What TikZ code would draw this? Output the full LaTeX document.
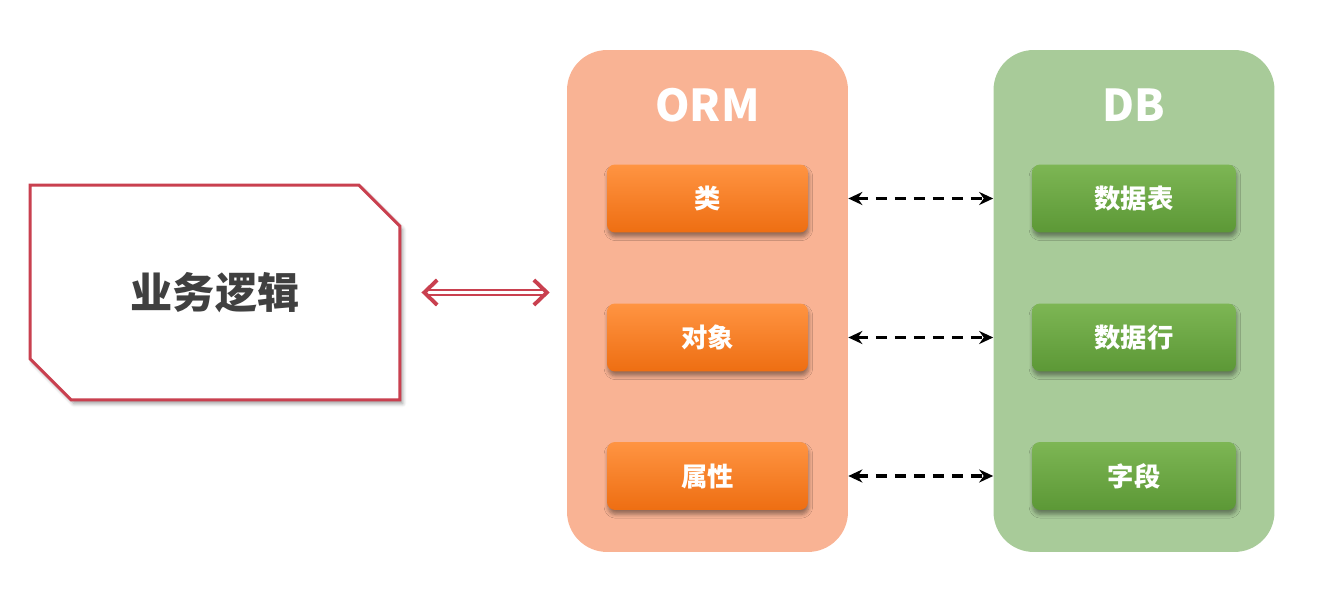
\documentclass[tikz,border=0pt]{standalone}
\usepackage{fontspec}
\setmainfont{Noto Sans CJK SC}
\usepackage{tikz}
\usetikzlibrary{shapes.misc,arrows.meta,shadows.blur}
\definecolor{logicred}{HTML}{C9404F}
\definecolor{logictext}{HTML}{404040}
\definecolor{ormback}{HTML}{F9B394}
\definecolor{ormtop}{HTML}{FF9442}
\definecolor{ormbottom}{HTML}{EE6E12}
\definecolor{dbback}{HTML}{A8CB99}
\definecolor{dbtop}{HTML}{7DB654}
\definecolor{dbbottom}{HTML}{5C9836}

\begin{document}
\begin{tikzpicture}[x=0.02cm,y=-0.02cm]
      \tikzstyle{logic}=[chamfered rectangle,chamfered rectangle corners={north east,south west},chamfered rectangle xsep=0.42cm,chamfered rectangle ysep=0.42cm,draw=logicred,line width=1.7pt,fill=white,minimum width=7.4cm,minimum height=4.3cm,inner sep=0pt,blur shadow={shadow xshift=1.5pt,shadow yshift=-2pt,shadow blur steps=5},text=logictext,font=\bfseries\fontsize{24pt}{28pt}\selectfont]
      \tikzstyle{panel}=[rectangle,rounded corners=0.8cm,minimum width=5.62cm,minimum height=10.04cm,inner sep=0pt]
      \tikzstyle{title}=[text=white,font=\bfseries\fontsize{25pt}{30pt}\selectfont]
      \tikzstyle{item}=[rectangle,rounded corners=0.16cm,minimum height=1.36cm,inner sep=0pt,text=white,font=\bfseries\fontsize{15pt}{18pt}\selectfont,blur shadow={shadow xshift=0.5pt,shadow yshift=-2.5pt,shadow blur steps=5}]
      \tikzstyle{ormitem}=[item,minimum width=4.02cm,top color=ormtop,bottom color=ormbottom]
      \tikzstyle{dbitem}=[item,minimum width=4.08cm,top color=dbtop,bottom color=dbbottom]
      \tikzstyle{link}=[dash pattern=on 0.22cm off 0.16cm,line width=2pt,{Stealth[length=0.28cm,width=0.26cm]}-{Stealth[length=0.28cm,width=0.26cm]}]
      \tikzstyle{twoway}=[logicred,line width=1.3pt,double=white,double distance=1.8pt,{Straight Barb[length=0.26cm,width=0.5cm,line width=2.2pt 0 0]}-{Straight Barb[length=0.26cm,width=0.5cm,line width=2.2pt 0 0]}]
      \useasboundingbox (0,0) rectangle (1321,597);
      \node[logic] (logic) at (215,292.5) {业务逻辑};
      \node[panel,fill=ormback] (orm) at (707.5,301) {};
      \node[panel,fill=dbback] (db) at (1134,301) {};
      \node[title] (ormtitle) at (707.5,105) {ORM};
      \node[title] (dbtitle) at (1134,105) {DB};
      \node[ormitem] (class) at (707.5,198.5) {类};
      \node[ormitem] (object) at (707.5,337.5) {对象};
      \node[ormitem] (attr) at (707.5,476) {属性};
      \node[dbitem] (table) at (1134,198.5) {数据表};
      \node[dbitem] (row) at (1134,337.5) {数据行};
      \node[dbitem] (field) at (1134,476) {字段};
      \draw[twoway,shorten <=0.4cm,shorten >=0.34cm] (logic.east) -- (logic.east -| orm.west);
      \draw[link] (class -| orm.east) -- (class -| db.west);
      \draw[link] (object -| orm.east) -- (object -| db.west);
      \draw[link] (attr -| orm.east) -- (attr -| db.west);
\end{tikzpicture}
\end{document}
